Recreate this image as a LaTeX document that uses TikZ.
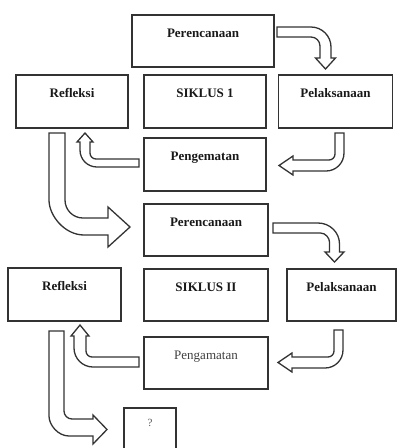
\documentclass[tikz,border=0pt]{standalone}
\usepackage{fontspec}
\setmainfont{Liberation Serif}
\usetikzlibrary{calc}
\begin{document}
\begin{tikzpicture}[x=1pt,y=-1pt,
  box/.style={draw=black!80, line width=1.5pt, fill=white, inner sep=0pt},
  lbl/.style={font=\fontsize{13}{15}\selectfont\bfseries, text=black!90, anchor=base, inner sep=0pt},
  lblr/.style={font=\fontsize{13}{15}\selectfont, text=black!75, anchor=base, inner sep=0pt},
  lblq/.style={font=\fontsize{11}{13}\selectfont, text=black!65, anchor=base, inner sep=0pt},
  blk/.style={draw=black!80, line width=1.3pt, fill=white, line join=miter}]
\useasboundingbox (0,0) rectangle (398,448);

% boxes
\node[box, minimum width=142pt, minimum height=52pt] (per1) at (203,41) {};
\node[box, minimum width=112pt, minimum height=53pt] (ref1) at (72,101.5) {};
\node[box, minimum width=122pt, minimum height=53pt] (sik1) at (205,101.5) {};
\node[box, minimum width=114pt, minimum height=53pt] (pel1) at (335.5,101.5) {};
\node[box, minimum width=122pt, minimum height=53pt] (pen1) at (205,164.5) {};
\node[box, minimum width=124pt, minimum height=52pt] (per2) at (206,230) {};
\node[box, minimum width=113pt, minimum height=53pt] (ref2) at (64.5,294.5) {};
\node[box, minimum width=124pt, minimum height=52pt] (sik2) at (206,295) {};
\node[box, minimum width=109pt, minimum height=52pt] (pel2) at (341.5,295) {};
\node[box, minimum width=124pt, minimum height=52pt] (pen2) at (206,363) {};
\node[box, minimum width=52pt, minimum height=44pt] (q) at (150,430) {};

% labels
\node[lbl] (tper1) at ($(per1.north)+(0,23.5)$) {Perencanaan};
\node[lbl] (tref1) at ($(ref1.north)+(0,23.5)$) {Refleksi};
\node[lbl] (tsik1) at ($(sik1.north)+(0,23.5)$) {SIKLUS 1};
\node[lbl] (tpel1) at ($(pel1.north)+(0,23.5)$) {Pelaksanaan};
\node[lbl] (tpen1) at ($(pen1.north)+(0,23.5)$) {Pengematan};
\node[lbl] (tper2) at ($(per2.north)+(0,23.5)$) {Perencanaan};
\node[lbl] (tref2) at ($(ref2.north)+(0,23.5)$) {Refleksi};
\node[lbl] (tsik2) at ($(sik2.north)+(0,23.5)$) {SIKLUS II};
\node[lbl] (tpel2) at ($(pel2.north)+(0,23.5)$) {Pelaksanaan};
\node[lblr] (tpen2) at ($(pen2.north)+(0,23.5)$) {Pengamatan};
\node[lblq] (tq) at ($(q.north)+(0,19)$) {?};

% block arrows
% 1: Perencanaan -> Pelaksanaan
\draw[blk] (277,27) -- (311,27) .. controls (322,27) and (331,36) .. (331,47) -- (331,58) -- (335.5,58)
  -- (325.5,69) -- (315.5,58) -- (320,58) -- (320,46) .. controls (320,41) and (316,37) .. (311,37) -- (277,37) -- cycle;
% 2: Pelaksanaan -> Pengematan
\draw[blk] (335,133) -- (344,133) -- (344,153) .. controls (344,163) and (336,171) .. (326,171) -- (293,171) -- (293,175)
  -- (279,165.5) -- (293,156) -- (293,160) -- (329,160) .. controls (332.3,160) and (335,157.3) .. (335,154) -- cycle;
% 3: Pengematan -> Refleksi
\draw[blk] (139,159) -- (139,167) -- (97,167) .. controls (87.6,167) and (80,159.6) .. (80,150) -- (80,142) -- (77,142)
  -- (85,133) -- (93,142) -- (90,142) -- (90,153) .. controls (90,156.3) and (92.7,159) .. (96,159) -- cycle;
% 4: Refleksi -> Perencanaan (siklus II)
\draw[blk] (49,133) -- (65,133) -- (65,200) .. controls (65,210) and (73,218) .. (83,218) -- (108,218) -- (108,207)
  -- (130,227) -- (108,247) -- (108,235) -- (84,235) .. controls (64.7,235) and (49,215.7) .. (49,200) -- cycle;
% 5: Perencanaan -> Pelaksanaan (siklus II)
\draw[blk] (273,223) -- (318,223) .. controls (329.8,223) and (339.5,232.2) .. (339.5,244) -- (339.5,252) -- (344,252)
  -- (334.5,262) -- (325,252) -- (329.5,252) -- (329.5,242) .. controls (329.5,238) and (325.5,233) .. (320.5,233) -- (273,233) -- cycle;
% 6: Pelaksanaan -> Pengamatan
\draw[blk] (334,330) -- (343,330) -- (343,350) .. controls (343,360) and (335,368) .. (325,368) -- (292,368) -- (292,372)
  -- (278,362.5) -- (292,353) -- (292,357) -- (328,357) .. controls (331.3,357) and (334,354.3) .. (334,351) -- cycle;
% 7: Pengamatan -> Refleksi
\draw[blk] (139,357) -- (139,367) -- (93,367) .. controls (82.5,367) and (74,358.5) .. (74,348) -- (74,336) -- (71,336)
  -- (80,325) -- (89,336) -- (86,336) -- (86,351) .. controls (86,354.3) and (88.7,357) .. (92,357) -- cycle;
% 8: Refleksi -> ?
\draw[blk] (49,331) -- (64,331) -- (64,411) .. controls (64,415.4) and (67.6,419) .. (72,419) -- (93,419) -- (93,415)
  -- (107,429.5) -- (93,444) -- (93,436) -- (69,436) .. controls (58,436) and (49,425) .. (49,416) -- cycle;
\end{tikzpicture}
\end{document}
